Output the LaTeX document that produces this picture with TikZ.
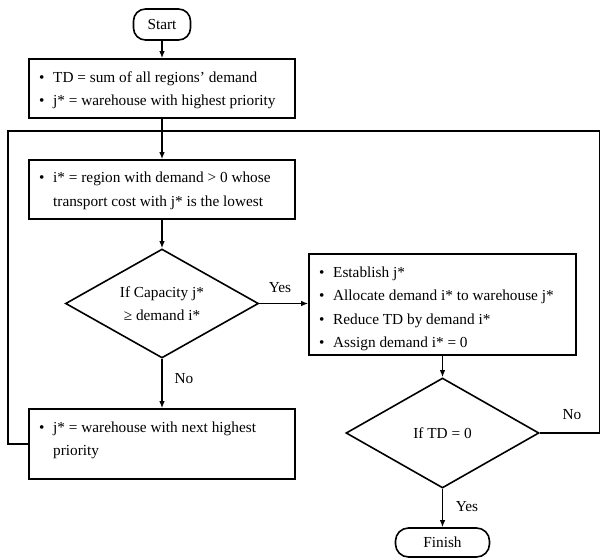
\documentclass[tikz,border=0pt]{standalone}
\usepackage{fontspec}
\setmainfont{Liberation Serif}
\usetikzlibrary{arrows.meta,shapes.geometric}
\newcommand{\bul}{\makebox[14pt][l]{\textbullet}}
\newcommand{\hang}{\makebox[14pt][l]{}}
\begin{document}
\begin{tikzpicture}[x=1pt,y=-1pt,
  every node/.style={font=\fontsize{15.3}{23.5}\selectfont},
  boxx/.style={draw,line width=1.6pt,inner sep=0pt},
  txt/.style={inner sep=0pt,anchor=west,align=left},
  term/.style={draw,line width=1.6pt,rounded corners=12pt,inner sep=0pt},
  dec/.style={draw,diamond,line width=1.6pt,inner sep=0pt,aspect=1.77,align=center},
  arr/.style={line width=1.3pt,-{Latex[length=7pt,width=5.5pt]}},
  ln/.style={line width=1.3pt},
  lab/.style={inner sep=0pt}]
\useasboundingbox (0,0) rectangle (601,559);

\node[term,minimum width=57pt,minimum height=31pt] (start) at (162,24.5) {Start};
\node[boxx,minimum width=266pt,minimum height=59pt] (b1) at (162,88.5) {};
\node[txt] (t1) at (39,90.5) {\bul TD = sum of all regions’ demand\\\bul j* = warehouse with highest priority};

\node[boxx,minimum width=266pt,minimum height=59pt] (b2) at (162,189.5) {};
\node[txt] (t2) at (39,191) {\bul i* = region with demand > 0 whose\\\hang transport cost with j* is the lowest};

\node[dec,minimum width=193pt,minimum height=109pt] (d1) at (162,303.5) {If Capacity j*\\≥ demand i*};

\node[boxx,minimum width=267pt,minimum height=101pt] (b3) at (442.5,304.5) {};
\node[txt] (t3) at (319,309) {\bul Establish j*\\\bul Allocate demand i* to warehouse j*\\\bul Reduce TD by demand i*\\\bul Assign demand i* = 0};

\node[boxx,minimum width=266pt,minimum height=70pt] (b4) at (162,444) {};
\node[txt] (t4) at (39,440.5) {\bul j* = warehouse with next highest\\\hang priority};

\node[dec,minimum width=193pt,minimum height=110pt] (d2) at (442.5,433) {If TD = 0};

\node[term,minimum width=94pt,minimum height=29pt,rounded corners=13pt] (finish) at (442.5,542.5) {Finish};

\coordinate (jn) at (162,131);
\coordinate (lc) at (8,131);
\coordinate (rc) at (599.5,131);

\draw[arr] (start) -- (b1);
\draw[arr] (b1) -- (b2);
\draw[arr] (b2) -- (d1);
\draw[arr] (d1.east) -- (d1.east -| b3.west);
\draw[arr] (d1) -- (b4);
\draw[arr] (b3) -- (d2);
\draw[arr] (d2) -- (finish);
\draw[ln] (b4.west) -| (lc) -- (jn);
\draw[ln] (d2.east) -| (rc) -- (jn);

\node[lab] (yes1) at (280,288) {Yes};
\node[lab] (no1) at (184,379) {No};
\node[lab] (yes2) at (467,507) {Yes};
\node[lab] (no2) at (572,415) {No};
\end{tikzpicture}
\end{document}
